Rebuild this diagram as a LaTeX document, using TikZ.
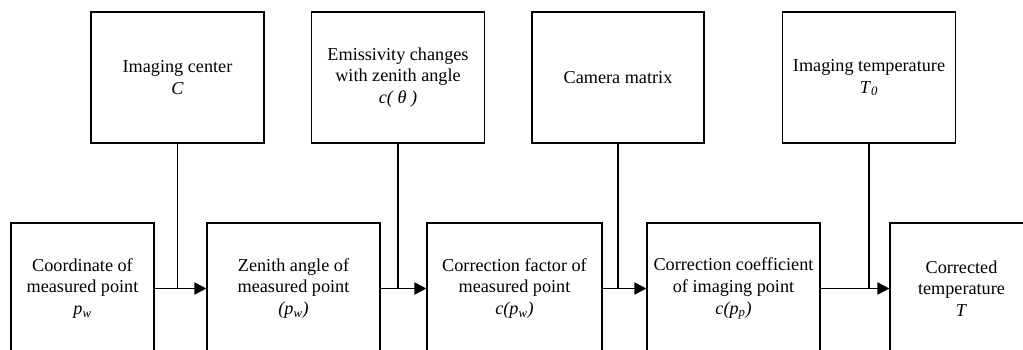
\documentclass[tikz,border=0pt]{standalone}
\usepackage{fontspec}
\setmainfont{Liberation Serif}
\usetikzlibrary{arrows.meta}
\tikzset{
  box/.style={draw=black, line width=1.1pt, minimum height=131pt, align=center, inner sep=0pt,
    font=\fontsize{18.2}{21.8}\selectfont},
  flow/.style={line width=1.8pt, -{Triangle[length=12pt,width=12pt]}},
  feed/.style={line width=1.3pt}
}
\newcommand{\var}[1]{\textit{#1}}
\begin{document}
\begin{tikzpicture}[x=1pt,y=-1pt]
\path[use as bounding box, clip] (0,0) rectangle (1023,350);
% top boxes
\node[box, minimum width=173pt] (t1) at (177.5,77.5) {Imaging center\\\var{C}};
\node[box, minimum width=173pt] (t2) at (398,77.5) {Emissivity changes\\with zenith angle\\\var{c( θ )}};
\node[box, minimum width=172pt] (t3) at (618,77.5) {Camera matrix};
\node[box, minimum width=173pt] (t4) at (869,77.5) {Imaging temperature\\\var{T}\textsubscript{\var{0}}};
% bottom boxes
\node[box, minimum width=143pt] (b1) at (82.5,288.5) {Coordinate of\\measured point\\\var{p}\textsubscript{\var{w}}};
\node[box, minimum width=173pt] (b2) at (293.5,288.5) {Zenith angle of\\measured point\\\var{(p}\textsubscript{\var{w}}\var{)}};
\node[box, minimum width=175pt] (b3) at (514.5,288.5) {Correction factor of\\measured point\\\var{c(p}\textsubscript{\var{w}}\var{)}};
\node[box, minimum width=173pt] (b4) at (733.5,288.5) {Correction coefficient\\of imaging point\\\var{c(p}\textsubscript{\var{p}}\var{)}};
\node[box, minimum width=143pt] (b5) at (961.5,288.5) {Corrected\\temperature\\\var{T}};
% flow arrows
\draw[flow] (b1.east) -- (b2.west);
\draw[flow] (b2.east) -- (b3.west);
\draw[flow] (b3.east) -- (b4.west);
\draw[flow] (b4.east) -- (b5.west);
% feeds from top boxes
\coordinate (j1) at (t1.south |- b1.east);
\coordinate (j2) at (t2.south |- b2.east);
\coordinate (j3) at (t3.south |- b3.east);
\coordinate (j4) at (t4.south |- b4.east);
\draw[feed] (t1.south) -- (j1);
\draw[feed] (t2.south) -- (j2);
\draw[feed] (t3.south) -- (j3);
\draw[feed] (t4.south) -- (j4);
\end{tikzpicture}
\end{document}
